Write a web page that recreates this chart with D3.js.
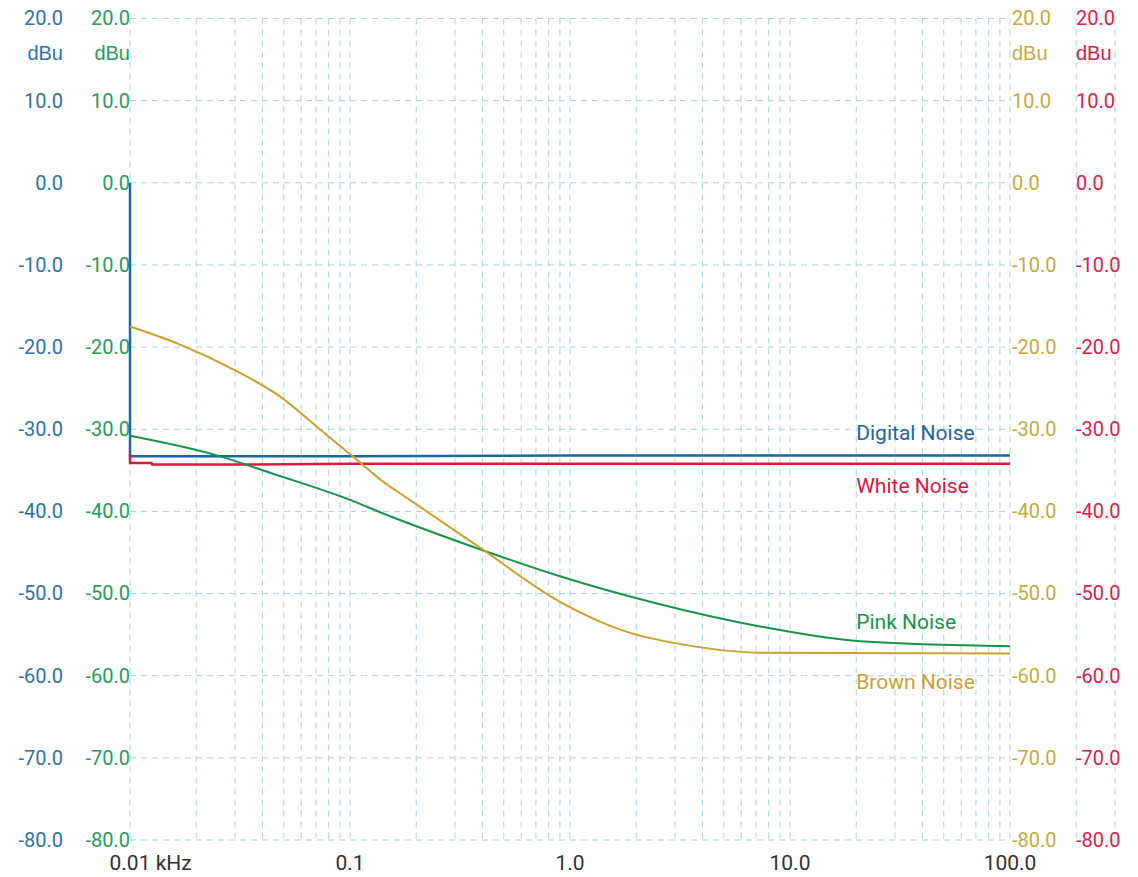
<!DOCTYPE html>
<html>
<head>
<meta charset="utf-8">
<script src="https://cdn.jsdelivr.net/npm/d3@7"></script>
<style>
  body { margin: 0; background: #fff; }
  svg { display: block; font-family: Roboto, "Noto Sans", sans-serif; }
</style>
</head>
<body>
<svg id="chart" width="1138" height="877"></svg>
<script>
// frequencias em kHz, niveis em dBu
const digital_freq = [0.01, 0.01, 0.0145, 0.015, 0.1, 1, 10, 100];
const digital_db   = [0.0, -33.3, -33.3, -33.3, -33.3, -33.2, -33.2, -33.2];

const white_freq = [0.01, 0.01, 0.0125, 0.0126, 0.03, 0.1, 1, 10, 100];
const white_db   = [-33.0, -34.1, -34.1, -34.3, -34.3, -34.2, -34.2, -34.2, -34.2];

const pink_freq = [0.01, 0.0257, 0.0433, 0.1, 0.137, 0.389, 0.9, 2.56, 7.3, 20.8, 100];
const pink_db   = [-30.8, -33.3, -35.3, -38.6, -40.1, -44.6, -47.9, -51.3, -54.0, -55.8, -56.4];

const brown_freq = [0.01, 0.0169, 0.0294, 0.048, 0.0729, 0.103, 0.137, 0.187, 0.389, 0.9, 1.83, 3.6, 7.3, 100];
const brown_db   = [-17.5, -19.7, -22.7, -26.0, -30.0, -33.3, -36.1, -38.6, -44.4, -51.0, -54.7, -56.4, -57.2, -57.3];

const y_ticks = [20, 10, 0, -10, -20, -30, -40, -50, -60, -70, -80];
const x_ticks = [0.01, 0.1, 1, 10, 100];
const x_tick_labels = ["0.01", "0.1", "1.0", "10.0", "100.0"];

const series_names = ["Digital Noise", "White Noise", "Pink Noise", "Brown Noise"];
const label_db = [-31.3, -37.8, -54.3, -61.6];   // onde fica o texto de cada serie
const label_freq = 20;

const COR = {
    digital: "#1d66ab",
    white:   "#e3173e",
    pink:    "#17964a",
    brown:   "#cfa02e",
    grid:    "#a9d3e3"
};
const COR_TXT = ["#2b74ae", "#24a05a", "#c9a93a", "#e0204a"]; // azul, verde, dourado, vermelho

const $svg = d3.select("#chart");

const x = d3.scaleLog().domain([0.01, 100]).range([130, 1010]);
const y = d3.scaleLinear().domain([20, -80]).range([18.5, 840]);

// grade
const grid = $svg.append("g").attr("class", "grid");

let freqs_grade = [];
[0.01, 0.1, 1, 10, 100].forEach(dec => {
    for (let k = 1; k <= 9; k++) freqs_grade.push(dec * k);
});
freqs_grade = freqs_grade.filter(f => f <= 300.0001);

grid.selectAll("line.v")
    .data(freqs_grade)
    .enter()
    .append("line")
    .attr("class", "v")
    .attr("x1", d => x(d)).attr("x2", d => x(d))
    .attr("y1", y(20)).attr("y2", y(-80))
    .attr("stroke", COR.grid)
    .attr("stroke-width", 1)
    .attr("stroke-dasharray", "6,5");

grid.selectAll("line.h")
    .data(y_ticks)
    .enter()
    .append("line")
    .attr("class", "h")
    .attr("x1", x(0.01)).attr("x2", x(100))
    .attr("y1", d => y(d)).attr("y2", d => y(d))
    .attr("stroke", COR.grid)
    .attr("stroke-width", 1)
    .attr("stroke-dasharray", "6,5");

// eixos verticais: azul e verde a esquerda, dourado e vermelho a direita
const fmt = d => d.toFixed(1);

const eixos = [
    { axis: d3.axisLeft(y),  x: 64,   cor: COR_TXT[0], anchor: "end" },
    { axis: d3.axisLeft(y),  x: 131,  cor: COR_TXT[1], anchor: "end" },
    { axis: d3.axisRight(y), x: 1011, cor: COR_TXT[2], anchor: "start" },
    { axis: d3.axisRight(y), x: 1075, cor: COR_TXT[3], anchor: "start" }
];

eixos.forEach(e => {
    const g = $svg.append("g")
        .attr("transform", `translate(${e.x},0)`)
        .call(e.axis.tickValues(y_ticks).tickFormat(fmt).tickSize(0).tickPadding(1));
    g.select(".domain").remove();
    g.selectAll("text")
        .attr("fill", e.cor)
        .style("font-size", "20px")
        .style("font-family", "Roboto, sans-serif");
    g.append("text")
        .attr("x", e.anchor == "end" ? -1 : 1)
        .attr("y", y(20) + 41)
        .attr("text-anchor", e.anchor)
        .attr("fill", e.cor)
        .style("font-size", "20px")
        .text("dBu");
});

// eixo x
const gx = $svg.append("g").attr("class", "x-axis");
gx.selectAll("text")
    .data(x_ticks)
    .enter()
    .append("text")
    .attr("x", d => x(d))
    .attr("y", 870)
    .attr("text-anchor", "middle")
    .attr("fill", "#333")
    .style("font-size", "21px")
    .text((d, i) => x_tick_labels[i]);

// primeiro rotulo leva a unidade, com o numero centrado no tick
const primeiro = gx.select("text");
const largura_num = primeiro.node().getComputedTextLength();
primeiro.attr("text-anchor", "start")
    .attr("x", x(0.01) - largura_num / 2)
    .text(x_tick_labels[0] + " kHz");

// linhas
const linha_reta = d3.line()
    .x(d => x(d[0]))
    .y(d => y(d[1]));

const linha_suave = d3.line()
    .x(d => x(d[0]))
    .y(d => y(d[1]))
    .curve(d3.curveMonotoneX);

const series = [
    { f: digital_freq, v: digital_db, cor: COR.digital, gerador: linha_reta,  w: 2.5 },
    { f: white_freq,   v: white_db,   cor: COR.white,   gerador: linha_reta,  w: 2.5 },
    { f: pink_freq,    v: pink_db,    cor: COR.pink,    gerador: linha_suave, w: 2 },
    { f: brown_freq,   v: brown_db,   cor: COR.brown,   gerador: linha_suave, w: 2 }
];

series.forEach(s => {
    $svg.append("path")
        .datum(d3.zip(s.f, s.v))
        .attr("d", s.gerador)
        .attr("fill", "none")
        .attr("stroke", s.cor)
        .attr("stroke-width", s.w);
});

// nomes das series
$svg.selectAll("text.serie")
    .data(series_names)
    .enter()
    .append("text")
    .attr("class", "serie")
    .attr("x", x(label_freq))
    .attr("y", (d, i) => y(label_db[i]))
    .attr("fill", (d, i) => series[i].cor)
    .style("font-size", "21px")
    .text(d => d);
</script>
</body>
</html>
